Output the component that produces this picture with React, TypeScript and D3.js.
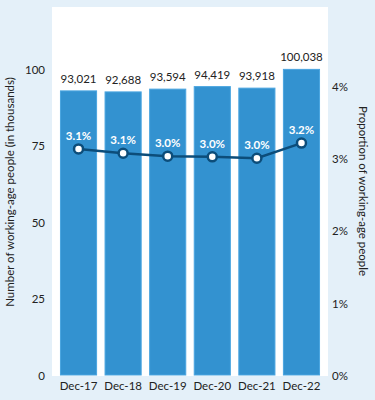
import React from "react";
import * as d3 from "d3";

const categories = ["Dec-17", "Dec-18", "Dec-19", "Dec-20", "Dec-21", "Dec-22"];
const workingAge = [93.021, 92.688, 93.594, 94.419, 93.918, 100.038];
const workingAgeLabels = ["93,021", "92,688", "93,594", "94,419", "93,918", "100,038"];
const proportion = [3.14, 3.08, 3.04, 3.03, 3.01, 3.22];
const proportionLabels = ["3.1%", "3.1%", "3.0%", "3.0%", "3.0%", "3.2%"];
const leftTicks = [0, 25, 50, 75, 100];
const rightTicks = [0, 1, 2, 3, 4];

const W = 375;
const H = 400;
const font = "Lato, 'Open Sans', sans-serif";

export default function App() {
  const plotLeft = 52;
  const plotRight = 328;
  const plotTop = 7;
  const plotBottom = 376;

  const x = d3.scaleBand<string>().domain(categories).range([plotLeft, plotRight]).paddingInner(0.19).paddingOuter(0.19);
  const yL = d3.scaleLinear().domain([0, 100]).range([376, 69.5]);
  const yR = d3.scaleLinear().domain([0, 4]).range([376, 86.7]);

  const line = d3
    .line<number>()
    .x((_, i) => (x(categories[i]) as number) + x.bandwidth() / 2)
    .y((d) => yR(d));

  return (
    <svg width={W} height={H} style={{ position: "absolute", left: 0, top: 0, display: "block" }}>
      <rect x={0} y={0} width={W} height={H} fill="#e4f0f9" />
      <rect x={plotLeft} y={plotTop} width={plotRight - plotLeft} height={plotBottom - plotTop} fill="#ffffff" />
      {categories.map((c, i) => {
        const bx = x(c) as number;
        const top = yL(workingAge[i]);
        return (
          <g key={c}>
            <rect
              x={bx}
              y={top}
              width={x.bandwidth()}
              height={yL(0) - 1 - top}
              fill="#3392d0"
              stroke="#4aa5e0"
              strokeWidth={1}
            />
            <text
              x={bx + x.bandwidth() / 2}
              y={top - 8}
              textAnchor="middle"
              fontFamily={font}
              fontSize={11.5}
              fill="#222"
            >
              {workingAgeLabels[i]}
            </text>
            <text
              x={bx + x.bandwidth() / 2}
              y={390}
              textAnchor="middle"
              fontFamily={font}
              fontSize={11.5}
              fill="#222"
            >
              {c}
            </text>
          </g>
        );
      })}
      <path d={line(proportion) || ""} fill="none" stroke="#0c4d7a" strokeWidth={2.5} />
      {proportion.map((p, i) => {
        const cx = (x(categories[i]) as number) + x.bandwidth() / 2;
        const cy = yR(p);
        return (
          <g key={i}>
            <circle cx={cx} cy={cy} r={4.5} fill="#ffffff" stroke="#0c4d7a" strokeWidth={2.5} />
            <text
              x={cx}
              y={cy - 9}
              textAnchor="middle"
              fontFamily={font}
              fontWeight={700}
              fontSize={11.5}
              fill="#ffffff"
            >
              {proportionLabels[i]}
            </text>
          </g>
        );
      })}
      {leftTicks.map((t) => (
        <text key={t} x={45} y={yL(t) + 4} textAnchor="end" fontFamily={font} fontSize={11.5} fill="#222">
          {t}
        </text>
      ))}
      {rightTicks.map((t) => (
        <text key={t} x={332} y={yR(t) + 4} textAnchor="start" fontFamily={font} fontSize={11.5} fill="#222">
          {t + "%"}
        </text>
      ))}
      <text
        transform={`translate(14,192) rotate(-90)`}
        textAnchor="middle"
        fontFamily={font}
        fontSize={11.5}
        fill="#222"
      >
        Number of working-age people (in thousands)
      </text>
      <text
        transform={`translate(359,191) rotate(90)`}
        textAnchor="middle"
        fontFamily={font}
        fontSize={11.5}
        fill="#222"
      >
        Proportion of working-age people
      </text>
    </svg>
  );
}
